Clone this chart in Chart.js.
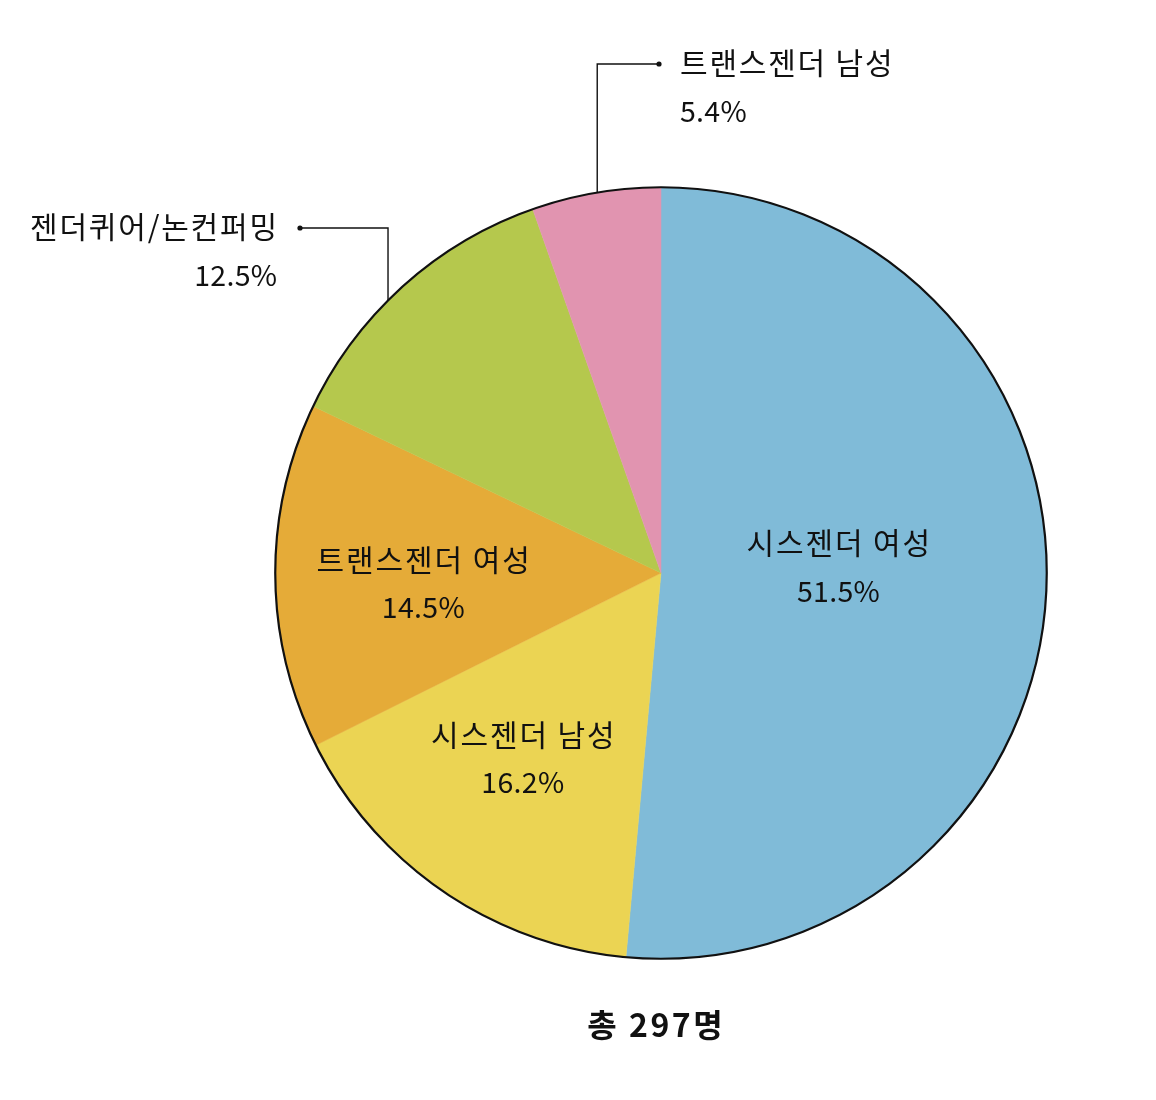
<!DOCTYPE html>
<html>
<head>
<meta charset="utf-8">
<script src="https://cdn.jsdelivr.net/npm/chart.js@4"></script>
<style>
  body { margin: 0; background: #fff; }
  #wrap { width: 1156px; height: 1100px; }
</style>
</head>
<body>
<div id="wrap"><canvas id="pie_chart" width="1156" height="1100"></canvas></div>
<script>
// data, clockwise from 12 o'clock
const categories = ['시스젠더 여성', '시스젠더 남성', '트랜스젠더 여성', '젠더퀴어/논컨퍼밍', '트랜스젠더 남성'];
const shares = [51.5, 16.2, 14.5, 12.5, 5.4];
const totalLabel = '총 297명';

const colors = ['#80BBD8', '#EBD453', '#E5AB38', '#B5C84D', '#E194B0'];
const FONT = "'Noto Sans CJK KR', 'Noto Sans', sans-serif";
const NAME_FONT = '400 30px ' + FONT;
const PCT_FONT = '400 28.5px ' + FONT;

// where each label goes: inside ones by angle/radius fraction, outside ones get a leader line
const labelStyle = [
    {inside: true, angFrac: 0.475, rFrac: 0.46},
    {inside: true, angFrac: 0.54, rFrac: 0.60},
    {inside: true, angFrac: 0.46, rFrac: 0.617},
    {inside: false, angFrac: 0.43, dx: -384, dy: -346, align: 'right'},
    {inside: false, angFrac: 0.51, dx: 19, dy: -510, align: 'left'}
];

const fmt = (v) => v.toFixed(1) + '%';

// letterSpacing also pads after the last glyph, so nudge for alignment
const spacedText = (ctx, txt, x, y, sp) => {
    ctx.letterSpacing = sp + 'px';
    let shift = 0;
    if (ctx.textAlign === 'center') shift = sp / 2;
    if (ctx.textAlign === 'right') shift = sp;
    ctx.fillText(txt, x + shift, y);
    ctx.letterSpacing = '0px';
}

const pieLabels = {
    id: 'pieLabels',
    afterDatasetsDraw(chart) {
        const ctx = chart.ctx;
        const arcs = chart.getDatasetMeta(0).data;
        const cx = arcs[0].x, cy = arcs[0].y, r = arcs[0].outerRadius;

        // outer outline
        ctx.save();
        ctx.beginPath();
        ctx.arc(cx, cy, r, 0, Math.PI * 2);
        ctx.lineWidth = 2.2;
        ctx.strokeStyle = '#111';
        ctx.stroke();

        ctx.fillStyle = '#111';
        ctx.textBaseline = 'middle';
        arcs.forEach((arc, i) => {
            const st = labelStyle[i];
            const ang = arc.startAngle + (arc.endAngle - arc.startAngle) * st.angFrac;
            if (st.inside) {
                const x = cx + Math.cos(ang) * r * st.rFrac;
                const y = cy + Math.sin(ang) * r * st.rFrac;
                ctx.textAlign = 'center';
                ctx.font = NAME_FONT;
                spacedText(ctx, categories[i], x, y - 24, 1.9);
                ctx.font = PCT_FONT;
                spacedText(ctx, fmt(shares[i]), x, y + 24, 0.3);
            } else {
                const ax = cx + Math.cos(ang) * r;
                const ay = cy + Math.sin(ang) * r;
                const tx = cx + st.dx, ty = cy + st.dy;
                const dotX = st.align === 'left' ? tx - 21 : tx + 23;
                ctx.beginPath();
                ctx.moveTo(ax, ay);
                ctx.lineTo(ax, ty + 1);
                ctx.lineTo(dotX, ty + 1);
                ctx.lineWidth = 1.4;
                ctx.stroke();
                ctx.beginPath();
                ctx.arc(dotX, ty + 1, 2.6, 0, Math.PI * 2);
                ctx.fill();
                ctx.textAlign = st.align;
                ctx.font = NAME_FONT;
                spacedText(ctx, categories[i], tx, ty, 1.8);
                ctx.font = PCT_FONT;
                spacedText(ctx, fmt(shares[i]), tx, ty + 48, 0.3);
            }
        });

        // total under the pie
        ctx.textAlign = 'center';
        ctx.font = '700 32px ' + FONT;
        spacedText(ctx, totalLabel, cx - 6, cy + r + 66, 2.5);
        ctx.restore();
    }
};

new Chart('pie_chart', {
    type: 'pie',
    data: {
        labels: categories,
        datasets: [{
            data: shares,
            backgroundColor: colors,
            borderColor: colors,
            borderWidth: 0.5
        }]
    },
    options: {
        responsive: false,
        devicePixelRatio: 1,
        animation: false,
        layout: {padding: {left: 275, right: 109, top: 187, bottom: 141}},
        plugins: {legend: {display: false}, tooltip: {enabled: false}}
    },
    plugins: [pieLabels]
});
</script>
</body>
</html>
